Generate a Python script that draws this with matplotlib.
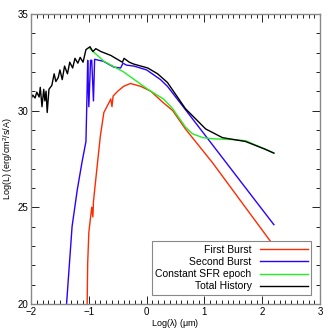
import numpy as np
import matplotlib
matplotlib.use('Agg')
import matplotlib.pyplot as plt
from matplotlib.ticker import MultipleLocator

plt.rcParams['font.family'] = ['Liberation Sans', 'DejaVu Sans']
plt.rcParams['mathtext.fontset'] = 'custom'
plt.rcParams['mathtext.rm'] = 'Liberation Sans'
plt.rcParams['mathtext.it'] = 'Liberation Sans'

# First Burst
red_x = [-1.03, -1.02, -1.0, -0.95, -0.93, -0.92, -0.85, -0.8, -0.74, -0.67,
         -0.62, -0.6, -0.58, -0.5, -0.4, -0.28, -0.1, 0.07, 0.29, 0.45, 0.67,
         1.14, 2.2]
red_y = [19.8, 22.1, 23.7, 25.0, 24.5, 25.3, 27.3, 28.7, 29.9, 30.3,
         30.6, 30.2, 30.75, 31.0, 31.25, 31.4, 31.25, 31.0, 30.4, 30.0, 29.05,
         27.3, 23.0]

# Second Burst
blue_x = [-1.39, -1.29, -1.2, -1.12, -1.05, -1.03, -1.02, -1.0, -0.97, -0.95,
          -0.92, -0.9, -0.75, -0.57, -0.45, -0.41, -0.35, -0.22, 0.0, 0.24,
          0.36, 0.67, 2.2]
blue_y = [19.8, 24.0, 25.9, 27.3, 28.4, 31.0, 32.6, 30.2, 32.6, 32.6,
          30.5, 32.65, 32.55, 32.25, 32.2, 32.45, 32.35, 32.3, 32.1, 31.6,
          31.25, 30.05, 24.1]

# Constant SFR epoch
green_x = [-0.98, -0.74, -0.4, 0.02, 0.29, 0.45, 0.67, 0.79, 0.97, 1.14,
           1.48, 1.71, 2.05, 2.2]
green_y = [33.2, 32.55, 32.0, 31.1, 30.6, 30.1, 29.15, 28.8, 28.6, 28.54,
           28.5, 28.44, 28.0, 27.8]

# Total History
black_x = [-2.0, -1.97, -1.93, -1.9, -1.86, -1.84, -1.81, -1.78, -1.76, -1.74,
           -1.72, -1.69, -1.64, -1.6, -1.57, -1.53, -1.5, -1.46, -1.42, -1.37,
           -1.33, -1.28, -1.24, -1.19, -1.15, -1.1, -1.05, -0.98, -0.93, -0.88,
           -0.79, -0.62, -0.45, -0.42, -0.39, -0.3, -0.22, 0.02, 0.19, 0.36,
           0.67, 1.02, 1.31, 1.71, 2.05, 2.2]
black_y = [30.6, 30.8, 30.65, 30.95, 30.7, 31.2, 30.2, 31.1, 30.5, 31.0,
           29.9, 31.1, 31.3, 31.9, 31.5, 31.7, 32.1, 31.6, 32.3, 31.9,
           32.5, 32.2, 32.7, 32.45, 32.75, 32.5, 33.15, 33.3, 33.05, 33.2,
           33.05, 32.85, 32.55, 32.5, 32.7, 32.5, 32.4, 32.2, 31.9, 31.45,
           30.1, 29.05, 28.6, 28.4, 28.0, 27.8]

fig = plt.figure(figsize=(3.3, 3.3), dpi=100)
ax = fig.add_axes([0.094, 0.079, 0.876, 0.879])

ax.plot(red_x, red_y, color='#ff2a00', lw=1.0, label='First Burst')
ax.plot(blue_x, blue_y, color='#2a00ff', lw=1.0, label='Second Burst')
ax.plot(green_x, green_y, color='#22ee22', lw=1.0, label='Constant SFR epoch')
ax.plot(black_x, black_y, color='black', lw=1.0, label='Total History')

ax.set_xlim(-2, 3)
ax.set_ylim(20, 35)
ax.xaxis.set_major_locator(MultipleLocator(1))
ax.xaxis.set_minor_locator(MultipleLocator(0.1))
ax.yaxis.set_major_locator(MultipleLocator(5))
ax.yaxis.set_minor_locator(MultipleLocator(1))
ax.tick_params(which='both', direction='in', top=True, right=True,
               labelsize=7, width=0.6)
ax.tick_params(axis='x', pad=2.5)
ax.tick_params(axis='y', pad=2)
ax.tick_params(which='major', length=6)
ax.tick_params(which='minor', length=3)
for s in ax.spines.values():
    s.set_color('#888888')
    s.set_linewidth(1.0)

ax.set_xlabel('Log($\\lambda$) ($\\mu$m)', fontsize=6.5)
ax.set_ylabel('Log(L) (erg/cm$^2$/s/A)', fontsize=6.5)
ax.xaxis.set_label_coords(0.5, -0.044)
ax.yaxis.set_label_coords(-0.056, 0.5)

leg = ax.legend(loc='lower right', bbox_to_anchor=(0.97, 0.031),
                markerfirst=False, fontsize=7.5, handlelength=4.6,
                fancybox=False, framealpha=1, borderpad=0.35,
                labelspacing=0.2, borderaxespad=0)
leg.get_frame().set_edgecolor('#888888')
leg.get_frame().set_linewidth(0.8)

fig.savefig('out.png', dpi=100)
